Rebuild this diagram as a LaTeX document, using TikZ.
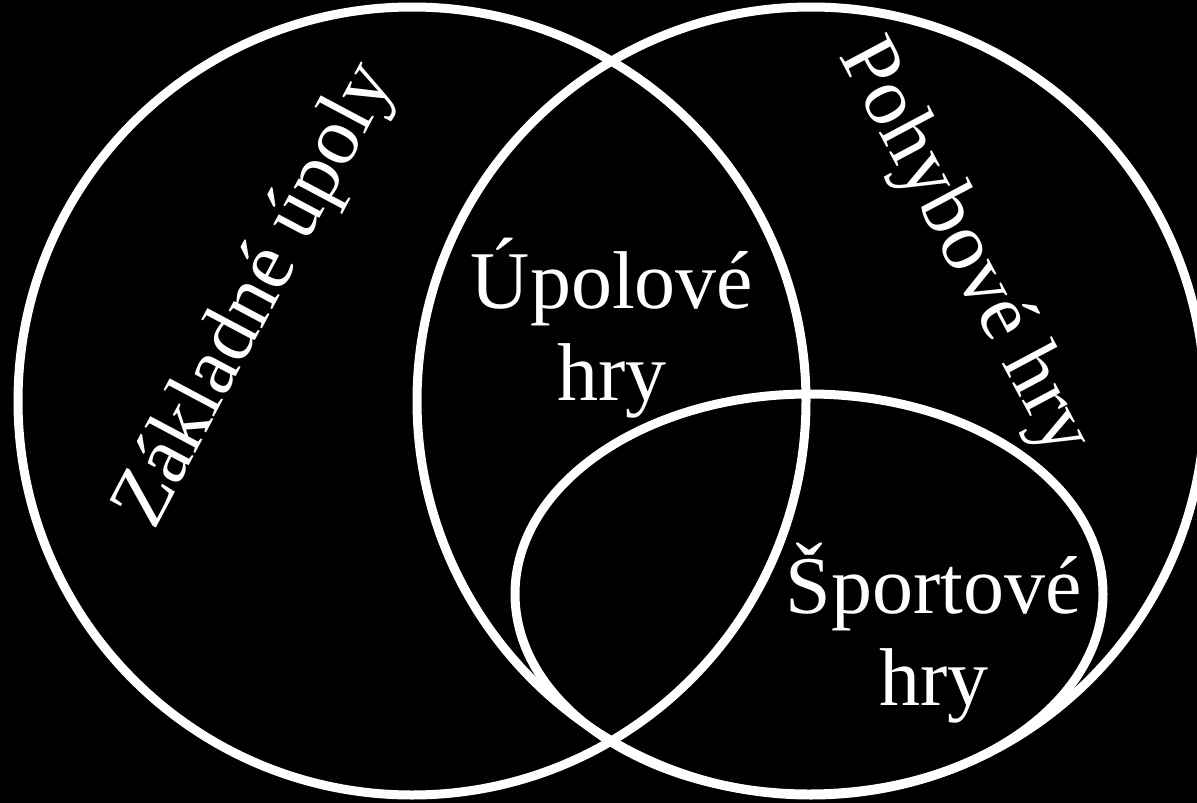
\documentclass[tikz,border=0pt]{standalone}
\usepackage{fontspec}
\setmainfont{Liberation Serif}
\begin{document}
\begin{tikzpicture}[x=1pt,y=-1pt,
  ring/.style={draw=white,line width=9pt},
  lbl/.style={text=white,inner sep=0pt,align=center,font=\fontsize{82}{92}\selectfont}]
\useasboundingbox (0,0) rectangle (1197,803);
\fill[black] (0,0) rectangle (1197,803);
\clip (0,0) rectangle (1197,803);
\draw[ring] (412,401) circle[radius=394pt];
\draw[ring] (811,401) circle[radius=394pt];
\draw[ring] (809,594) ellipse[x radius=294pt, y radius=200pt];
\node[lbl,rotate=62] (zakl) at (257,296) {Základné úpoly};
\node[lbl,rotate=-62] (pohyb) at (963,248) {Pohybové hry};
\node[lbl,anchor=base] (upol) at (612,400) {\'{U}polové\\hry};
\node[lbl,anchor=base] (sport) at (934,705) {Športové\\hry};
\end{tikzpicture}
\end{document}
